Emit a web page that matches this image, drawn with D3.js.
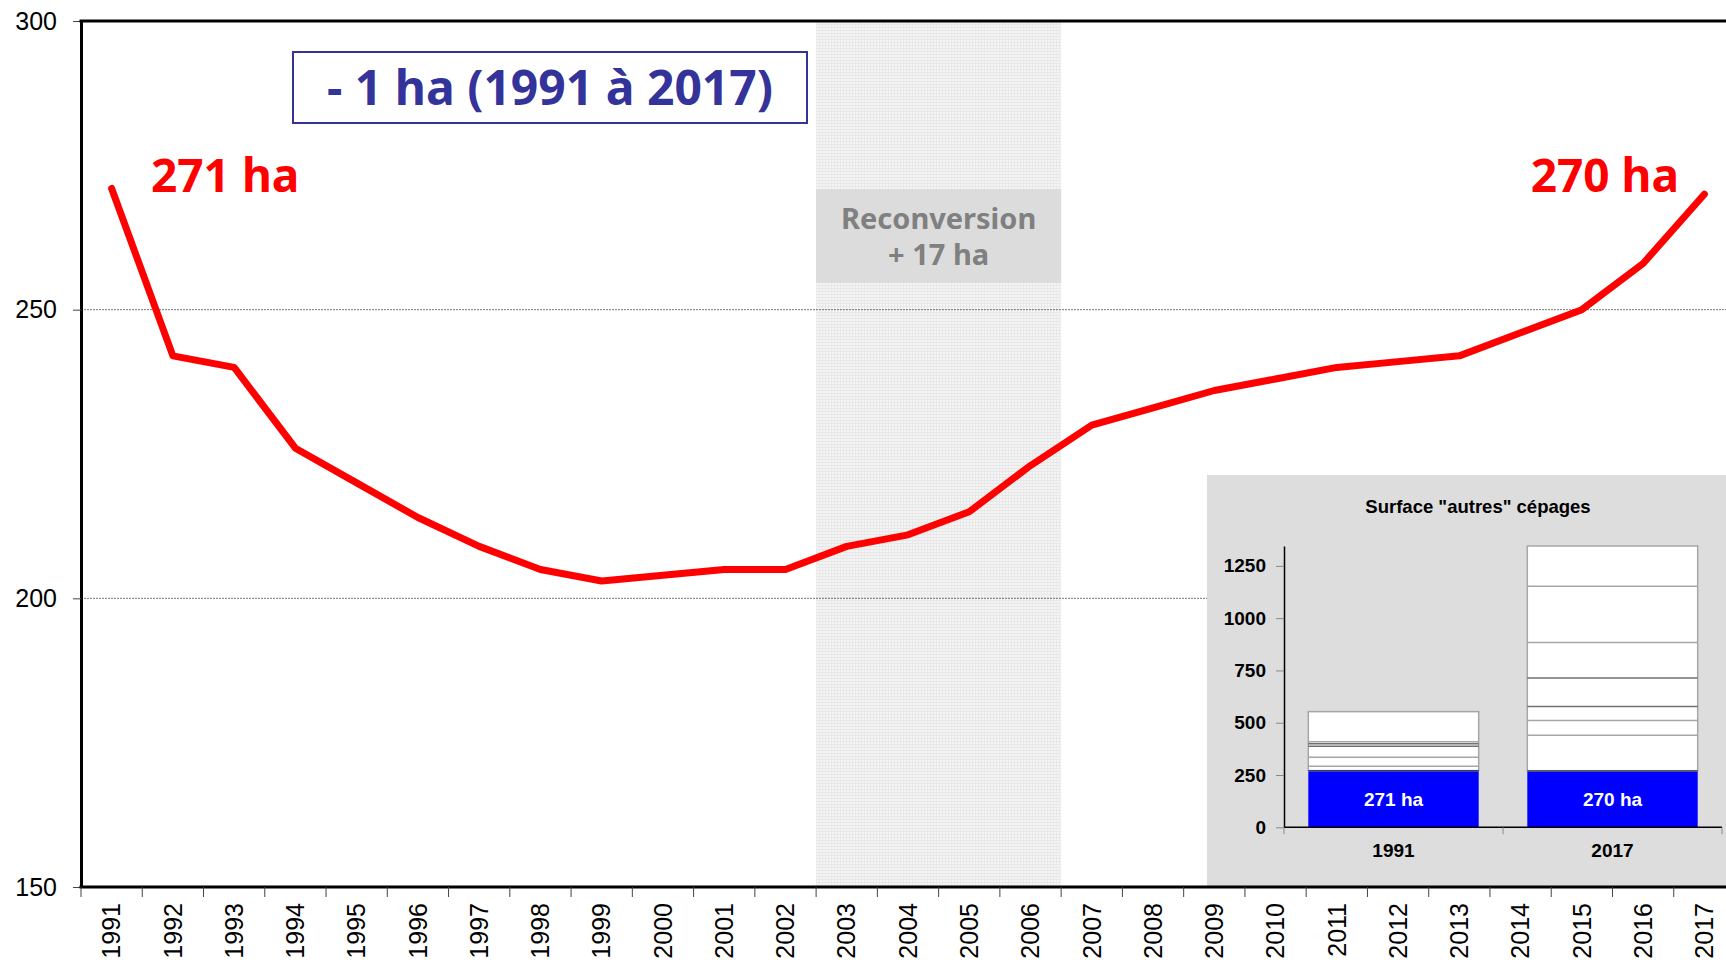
<!DOCTYPE html>
<html><head><meta charset="utf-8">
<script src="https://cdn.jsdelivr.net/npm/d3@7"></script>
<style>html,body{margin:0;padding:0;background:#fff;overflow:hidden}</style>
</head><body><svg id="c" width="1726" height="964"></svg>
<script>
// ---------- data ----------
const years = ["1991","1992","1993","1994","1995","1996","1997","1998","1999","2000","2001","2002","2003","2004","2005","2006","2007","2008","2009","2010","2011","2012","2013","2014","2015","2016","2017"];
const surface = [271,242,240,226,220,214,209,205,203,204,205,205,209,211,215,223,230,233,236,238,240,241,242,246,250,258,270];
const yTicks = [150,200,250,300];
const gridValues = [200,250];
const reconvStart = "2003", reconvEnd = "2006";
const insetCats = ["1991","2017"];
const insetSegments1991 = [271,21,43,52,13,9,144];
const insetSegments2017 = [270,170,71,67,136,170,268,193];
const insetTicks = [0,250,500,750,1000,1250];
const insetMax = 1345;
const insetLabels = ["271 ha","270 ha"];

// ---------- setup ----------
const svg = d3.select("#c");
const L = 81, R = 1735, T = 21, B = 887;
const x = d3.scaleBand().domain(years).range([L, R]).padding(0);
const y = d3.scaleLinear().domain([150,300]).range([B, T]);
const cx = d => x(d) + x.bandwidth()/2;

const defs = svg.append("defs");
const pat = defs.append("pattern").attr("id","dots").attr("patternUnits","userSpaceOnUse").attr("width",3).attr("height",3);
pat.append("rect").attr("width",3).attr("height",3).attr("fill","#f5f5f5");
pat.append("rect").attr("width",3).attr("height",1).attr("fill","#e6e6e6");
pat.append("rect").attr("width",1).attr("height",3).attr("fill","#e9e9e9");

// shaded reconversion zone
svg.append("rect")
  .attr("x", x(reconvStart)).attr("y", T)
  .attr("width", x(reconvEnd) + x.bandwidth() - x(reconvStart))
  .attr("height", B - T).attr("fill","url(#dots)");

// gridlines
svg.selectAll("line.grid").data(gridValues).join("line")
  .attr("class","grid")
  .attr("x1", L).attr("x2", 1726)
  .attr("y1", d => y(d)).attr("y2", d => y(d))
  .attr("stroke","#777").attr("stroke-width",1).attr("stroke-dasharray","2,1");

// reconversion label box
const rx0 = x(reconvStart), rx1 = x(reconvEnd) + x.bandwidth();
svg.append("rect").attr("x", rx0).attr("y", 189).attr("width", rx1 - rx0).attr("height", 94).attr("fill","#dcdcdc");
const rfont = s => s.attr("text-anchor","middle")
  .attr("font-family","'Noto Sans', sans-serif").attr("font-weight","bold")
  .attr("font-size",29).attr("fill","#808080");
svg.append("text").call(rfont).attr("x",(rx0+rx1)/2).attr("y",229).text("Reconversion");
svg.append("text").call(rfont).attr("x",(rx0+rx1)/2).attr("y",265).text("+ 17 ha");

// red line
svg.append("path").datum(surface)
  .attr("fill","none").attr("stroke","#ff0000").attr("stroke-width",7)
  .attr("stroke-linejoin","round").attr("stroke-linecap","round")
  .attr("d", d3.line().x((d,i) => cx(years[i])).y(d => y(d)));

// annotations
svg.append("text").attr("x",151).attr("y",192)
  .attr("font-family","'Noto Sans', sans-serif").attr("font-weight","bold")
  .attr("font-size",46).attr("fill","#ff0000").text("271 ha");
svg.append("text").attr("x",1679).attr("y",192).attr("text-anchor","end")
  .attr("font-family","'Noto Sans', sans-serif").attr("font-weight","bold")
  .attr("font-size",46).attr("fill","#ff0000").text("270 ha");

svg.append("rect").attr("x",293).attr("y",52).attr("width",514).attr("height",71)
  .attr("fill","#fff").attr("stroke","#333399").attr("stroke-width",2);
svg.append("text").attr("x",550).attr("y",105).attr("text-anchor","middle")
  .attr("font-family","'Noto Sans', sans-serif").attr("font-weight","bold")
  .attr("font-size",48).attr("fill","#333399").text("- 1 ha (1991 à 2017)");

// ---------- inset ----------
const ig = svg.append("g");
ig.append("rect").attr("x",1207).attr("y",475).attr("width",1726-1207).attr("height",B-475).attr("fill","#dddddd");
ig.append("text").attr("x",1478).attr("y",513).attr("text-anchor","middle")
  .attr("font-family","'Liberation Sans', Arial, sans-serif").attr("font-weight","bold")
  .attr("font-size",18.5).attr("fill","#000").text('Surface "autres" cépages');

const ix = d3.scaleBand().domain(insetCats).range([1284,1722]).paddingInner(0.222).paddingOuter(0.111);
const iy = d3.scaleLinear().domain([0, insetMax]).range([827.3, 546]);
const segs = [insetSegments1991, insetSegments2017];
const segStroke = i => (i === 3 || i === 4) ? "#707070" : "#a6a6a6";
segs.forEach((arr, ci) => {
  const cat = insetCats[ci];
  let acc = 0;
  const items = arr.map((v, i) => { const o = {i, y0: acc, y1: acc + v}; acc += v; return o; });
  const g = ig.append("g");
  g.selectAll("rect").data(items).join("rect")
    .attr("x", ix(cat)).attr("width", ix.bandwidth())
    .attr("y", d => iy(d.y1)).attr("height", d => iy(d.y0) - iy(d.y1))
    .attr("fill", d => d.i === 0 ? "#0000ff" : "#ffffff");
  g.append("rect").attr("x", ix(cat)).attr("width", ix.bandwidth())
    .attr("y", iy(acc)).attr("height", iy(arr[0]) - iy(acc))
    .attr("fill","none").attr("stroke","#a6a6a6").attr("stroke-width",1.5);
  g.selectAll("line.top").data(items.slice(1, -1)).join("line")
    .attr("x1", ix(cat)).attr("x2", ix(cat) + ix.bandwidth())
    .attr("y1", d => iy(d.y1)).attr("y2", d => iy(d.y1))
    .attr("stroke", d => segStroke(d.i)).attr("stroke-width",1.5);
  g.append("line").attr("x1", ix(cat)).attr("x2", ix(cat) + ix.bandwidth())
    .attr("y1", iy(arr[0])).attr("y2", iy(arr[0])).attr("stroke","#333").attr("stroke-width",1);
  g.append("text").attr("x", ix(cat) + ix.bandwidth()/2).attr("y", iy(arr[0]/2)).attr("dy","0.35em")
    .attr("text-anchor","middle").attr("font-family","'Liberation Sans', Arial, sans-serif")
    .attr("font-weight","bold").attr("font-size",19).attr("fill","#fff").text(insetLabels[ci]);
});

// inset axes
const iya = ig.append("g").attr("transform","translate(1284,0)")
  .call(d3.axisLeft(iy).tickValues(insetTicks).tickFormat(d3.format("d")).tickSize(8).tickPadding(10).tickSizeOuter(0));
iya.select(".domain").attr("stroke","#000").attr("stroke-width",1.5);
iya.selectAll(".tick line").attr("stroke","#888");
iya.selectAll("text").attr("font-family","'Liberation Sans', Arial, sans-serif").attr("font-weight","bold").attr("font-size",19).attr("fill","#000");

const ixa = ig.append("g").attr("transform","translate(0,827.3)");
ixa.append("line").attr("x1",1284).attr("x2",1722).attr("y1",0).attr("y2",0).attr("stroke","#000").attr("stroke-width",1.5);
ixa.selectAll("line.t").data([1284, 1503, 1722]).join("line").attr("class","t")
  .attr("x1", d => d).attr("x2", d => d).attr("y1",0).attr("y2",7).attr("stroke","#888");
ixa.selectAll("text").data(insetCats).join("text")
  .attr("x", d => ix(d) + ix.bandwidth()/2).attr("y", 30).attr("text-anchor","middle")
  .attr("font-family","'Liberation Sans', Arial, sans-serif").attr("font-weight","bold")
  .attr("font-size",19).attr("fill","#000").text(d => d);

// ---------- main axes ----------
const ya = svg.append("g").attr("transform",`translate(${L},0)`)
  .call(d3.axisLeft(y).tickValues(yTicks).tickSize(8).tickPadding(16).tickSizeOuter(0));
ya.select(".domain").attr("stroke","#000").attr("stroke-width",3);
ya.selectAll(".tick line").attr("stroke","#444");
ya.selectAll("text").attr("font-family","'Liberation Sans', Arial, sans-serif").attr("font-size",25).attr("fill","#000");

// top border
svg.append("line").attr("x1",L-1.5).attr("x2",1726).attr("y1",T).attr("y2",T).attr("stroke","#000").attr("stroke-width",3);

// bottom axis
const xa = svg.append("g").attr("transform",`translate(0,${B})`);
xa.append("line").attr("x1",L-1.5).attr("x2",1726).attr("y1",0).attr("y2",0).attr("stroke","#000").attr("stroke-width",3);
xa.selectAll("line.t").data(years).join("line").attr("class","t")
  .attr("x1", d => x(d)).attr("x2", d => x(d)).attr("y1",0).attr("y2",10).attr("stroke","#444");
xa.selectAll("text").data(years).join("text")
  .attr("transform", d => `translate(${cx(d)},16) rotate(-90)`)
  .attr("text-anchor","end").attr("dy","0.35em")
  .attr("font-family","'Liberation Sans', Arial, sans-serif").attr("font-size",25).attr("fill","#000")
  .text(d => d);
</script></body></html>
